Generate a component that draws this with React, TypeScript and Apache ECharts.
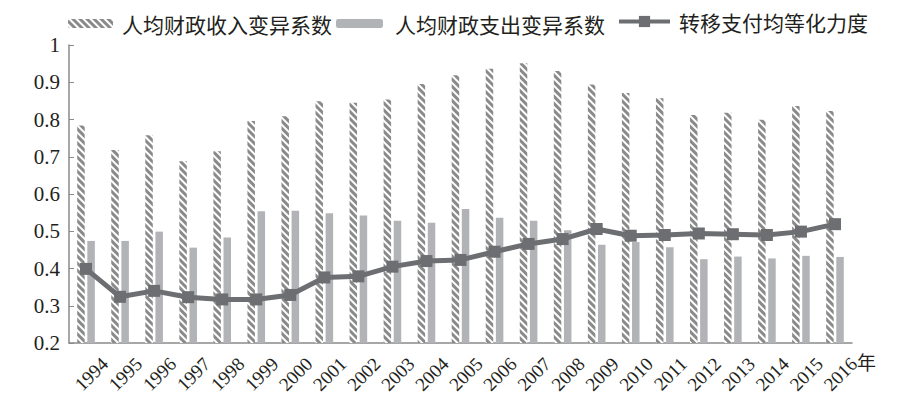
import React, { useEffect, useRef } from "react";
import * as echarts from "echarts";

const years = ["1994","1995","1996","1997","1998","1999","2000","2001","2002","2003","2004","2005","2006","2007","2008","2009","2010","2011","2012","2013","2014","2015","2016"];
const revenueCV = [0.784,0.718,0.758,0.688,0.715,0.796,0.809,0.849,0.845,0.854,0.895,0.919,0.936,0.951,0.930,0.894,0.871,0.857,0.812,0.818,0.799,0.836,0.823];
const expenditureCV = [0.474,0.474,0.499,0.456,0.483,0.554,0.555,0.548,0.542,0.528,0.523,0.560,0.536,0.528,0.503,0.464,0.471,0.457,0.425,0.432,0.427,0.434,0.431];
const equalization = [0.399,0.324,0.340,0.323,0.317,0.317,0.329,0.376,0.379,0.405,0.420,0.423,0.445,0.466,0.479,0.506,0.488,0.490,0.494,0.492,0.490,0.499,0.519];

const names = ["人均财政收入变异系数", "人均财政支出变异系数", "转移支付均等化力度"];
// tick labels placed at the category boundaries (first boundary has no label)
const boundaryLabels = ["", ...years];

const serif = "'Liberation Serif', 'DejaVu Serif', serif";
const cjk = "'Noto Sans CJK SC', sans-serif";

export default function App() {
  const ref = useRef<HTMLDivElement>(null);
  useEffect(() => {
    if (!ref.current) return;
    const chart = echarts.init(ref.current, null, { renderer: "svg" });
    const legendBase = {
      top: 13,
      padding: 0,
      itemHeight: 9,
      itemWidth: 45,
      textStyle: { fontFamily: cjk, fontSize: 21, color: "#231f20" },
    };
    chart.setOption({
      animation: false,
      backgroundColor: "#ffffff",
      legend: [
        { ...legendBase, left: 68, data: [names[0]], textStyle: { ...legendBase.textStyle, padding: [0, 0, 0, 4] } },
        { ...legendBase, left: 336, itemWidth: 47, data: [names[1]], textStyle: { ...legendBase.textStyle, padding: [0, 0, 0, 7] } },
        {
          ...legendBase,
          left: 617,
          top: 11,
          itemWidth: 51,
          itemHeight: 14,
          lineStyle: { width: 4 },
          data: [names[2]],
          textStyle: { ...legendBase.textStyle, padding: [0, 0, 0, 4] },
        },
      ],
      grid: { left: 69, right: 48, top: 45, bottom: 55, containLabel: false },
      xAxis: [
        {
          type: "category",
          data: years,
          name: "年",
          nameLocation: "end",
          nameGap: 5,
          nameTextStyle: { fontFamily: cjk, fontSize: 19, color: "#231f20", verticalAlign: "top", align: "left", padding: [9, 0, 0, 0] },
          axisLine: { lineStyle: { color: "#8a8a8a", width: 1.5 } },
          axisTick: { inside: true, length: 5, lineStyle: { color: "#8a8a8a" } },
          axisLabel: { show: false },
        },
        {
          type: "category",
          data: boundaryLabels,
          boundaryGap: false,
          position: "bottom",
          axisLine: { show: false },
          axisTick: { show: false },
          splitLine: { show: false },
          axisPointer: { show: false },
          axisLabel: {
            interval: 0,
            rotate: 45,
            align: "right",
            verticalAlign: "top",
            margin: 6,
            padding: [0, 7, 0, 0],
            fontFamily: serif,
            fontSize: 19,
            color: "#231f20",
          },
        },
      ],
      yAxis: {
        type: "value",
        min: 0.2,
        max: 1,
        interval: 0.1,
        splitLine: { show: false },
        axisLine: { show: true, lineStyle: { color: "#8a8a8a", width: 1.5 } },
        axisTick: { show: true, inside: true, length: 5, lineStyle: { color: "#8a8a8a" } },
        axisLabel: {
          margin: 9,
          fontFamily: serif,
          fontSize: 21,
          color: "#231f20",
          formatter: (v: number) => String(parseFloat(v.toFixed(1))),
        },
      },
      series: [
        {
          name: names[0],
          type: "bar",
          data: revenueCV,
          barWidth: 7.5,
          barGap: "35%",
          itemStyle: {
            color: "#ffffff",
            decal: {
              symbol: "rect",
              symbolSize: 1,
              dashArrayX: [[1, 0]],
              dashArrayY: [2.5, 1.5],
              rotation: Math.PI / 4,
              color: "#8a8a8a",
            },
          },
        },
        {
          name: names[1],
          type: "bar",
          data: expenditureCV,
          barWidth: 7.5,
          itemStyle: { color: "#b1b3b6" },
        },
        {
          name: names[2],
          type: "line",
          data: equalization,
          symbol: "rect",
          symbolSize: 12,
          lineStyle: { color: "#6d6e71", width: 5 },
          itemStyle: { color: "#6d6e71" },
        },
      ],
    });
    return () => chart.dispose();
  }, []);
  return <div ref={ref} style={{ width: 900, height: 398, position: "absolute", left: 0, top: 0 }} />;
}
